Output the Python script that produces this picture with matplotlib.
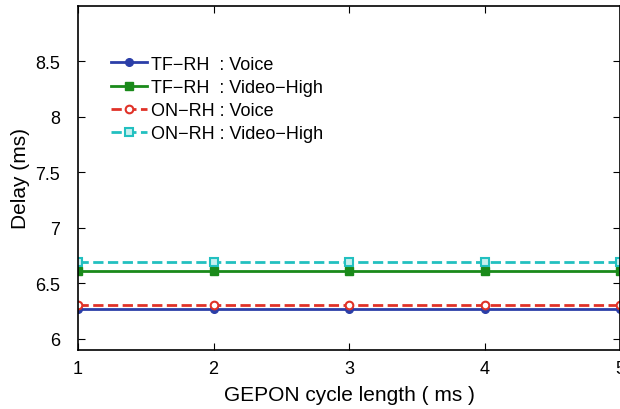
import matplotlib

matplotlib.use("Agg")
import matplotlib.pyplot as plt  # noqa: E402

plt.rcParams.update({"font.family": ["Liberation Sans", "DejaVu Sans"], "font.size": 13})

cycle = [1, 2, 3, 4, 5]
tf_voice = [6.27, 6.27, 6.27, 6.27, 6.27]
tf_video = [6.61, 6.61, 6.61, 6.61, 6.61]
on_voice = [6.305, 6.305, 6.305, 6.305, 6.305]
on_video = [6.69, 6.69, 6.69, 6.69, 6.69]

fig = plt.figure(figsize=(6.2, 4.1), dpi=100)
ax = fig.add_axes([0.126, 0.144, 0.874, 0.839])

ax.plot(cycle, tf_voice, "-o", color="#2b3ea8", lw=2, ms=5.5, label="TF\u2212RH  : Voice")
ax.plot(cycle, tf_video, "-s", color="#1a8a1a", lw=2, ms=5.5, label="TF\u2212RH  : Video\u2212High")
ax.plot(cycle, on_voice, "--o", color="#e03228", lw=2, ms=5.5, mfc="white", mew=1.5,
        label="ON\u2212RH : Voice")
ax.plot(cycle, on_video, "--s", color="#22c0c0", lw=2, ms=5.5, mfc="#c8f0f0", mew=1.5,
        label="ON\u2212RH : Video\u2212High")

ax.set_xlim(1, 5)
ax.set_ylim(5.9, 9)
ax.set_xticks(cycle)
ax.set_yticks([6, 6.5, 7, 7.5, 8, 8.5])
ax.set_yticklabels(["6", "6.5", "7", "7.5", "8", "8.5"])
ax.tick_params(direction="in", top=True, right=True, length=5, labelsize=13)
ax.tick_params(axis="x", pad=7)
ax.tick_params(axis="y", pad=13)
ax.set_xlabel("GEPON cycle length ( ms )", fontsize=15, labelpad=6)
ax.set_ylabel("Delay (ms)", fontsize=15, labelpad=4)
for s in ax.spines.values():
    s.set_linewidth(1.2)

ax.legend(loc="upper left", bbox_to_anchor=(0.061, 0.856), frameon=False, fontsize=13,
          borderaxespad=0, borderpad=0, handlelength=2.0, handletextpad=0.2,
          labelspacing=0.35)

fig.savefig("out.png")
